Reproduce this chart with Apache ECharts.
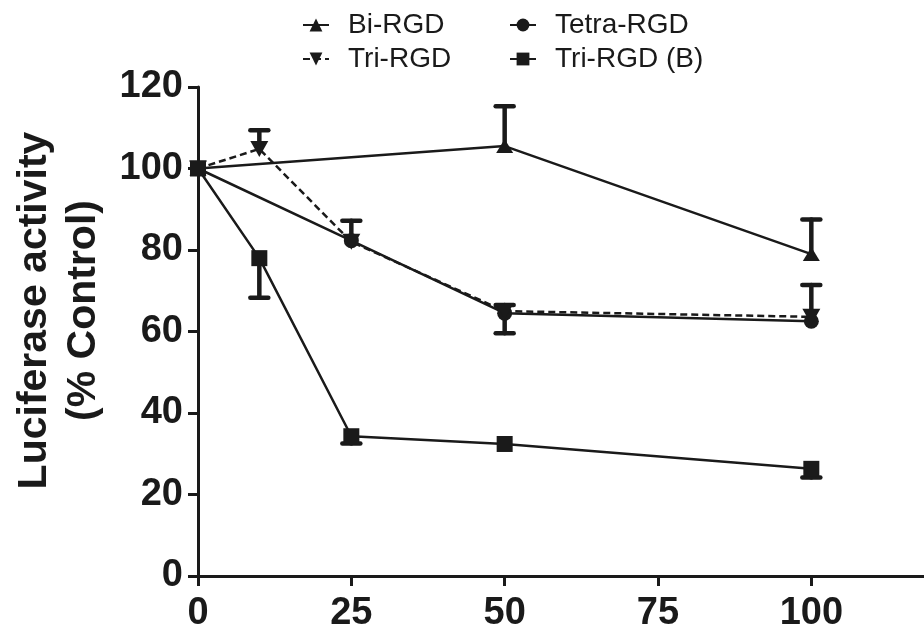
<!DOCTYPE html>
<html>
<head>
<meta charset="utf-8">
<script src="https://cdn.jsdelivr.net/npm/echarts@6/dist/echarts.min.js"></script>
<style>
  html, body { margin: 0; padding: 0; background: #fff; }
  #chart { width: 924px; height: 624px; }
</style>
</head>
<body>
<div id="chart"></div>
<script>
// concentrations (x) and mean luciferase activity (% control)
var biX = [0, 50, 100];
var biY = [100, 105.5, 79];
var biErr = [0, 9.8, 8.5];        // drawn upwards

var tetraX = [0, 25, 50, 100];
var tetraY = [100, 82.3, 64.5, 62.5];
var tetraErr = [0, 0, -4.9, 0];   // negative = drawn downwards

var triX = [0, 10, 25, 50, 100];
var triY = [100, 104.8, 82, 65, 63.6];
var triErr = [0, 4.6, 5.2, 1.5, 7.8];

var triBX = [0, 10, 25, 50, 100];
var triBY = [100, 78, 34.3, 32.4, 26.3];
var triBErr = [0, -9.7, -1.8, 0, -2.1];

var xTicks = [0, 25, 50, 75, 100];
var ink = '#1a1a1a';
var font = '"Liberation Sans", Arial, sans-serif';

function pairs(xs, ys) {
    var out = [];
    for (var i = 0; i < xs.length; i++) out.push([xs[i], ys[i]]);
    return out;
}
function errData(xs, ys, es) {
    var out = [];
    for (var i = 0; i < xs.length; i++) {
        if (es[i] !== 0) out.push([xs[i], ys[i], ys[i] + es[i]]);
    }
    return out;
}
function renderErr(params, api) {
    var p0 = api.coord([api.value(0), api.value(1)]);
    var p1 = api.coord([api.value(0), api.value(2)]);
    var st = { stroke: ink, lineWidth: 4.5, lineCap: 'round' };
    return {
        type: 'group',
        children: [
            { type: 'line', shape: { x1: p0[0], y1: p0[1], x2: p1[0], y2: p1[1] }, style: st },
            { type: 'line', shape: { x1: p1[0] - 9, y1: p1[1], x2: p1[0] + 9, y2: p1[1] }, style: st }
        ]
    };
}
function errSeries(data) {
    return {
        type: 'custom',
        renderItem: renderErr,
        encode: { x: 0, y: [1, 2] },
        data: data,
        silent: true,
        z: 1
    };
}
function legendAt(name, left, top) {
    return {
        data: [name],
        left: left,
        top: top,
        padding: 0,
        itemWidth: 26,
        itemHeight: 16,
        textStyle: { fontSize: 28, fontFamily: font, color: ink, padding: [0, 0, 0, 14] }
    };
}

var chart = echarts.init(document.getElementById('chart'));
var option = {
    backgroundColor: '#fff',
    animation: false,
    legend: [
        legendAt('Bi-RGD', 302, 11),
        legendAt('Tetra-RGD', 509, 11),
        legendAt('Tri-RGD', 302, 45),
        legendAt('Tri-RGD (B)', 509, 45)
    ],
    grid: {
        left: 198, right: -10, top: 87, bottom: 48,
        containLabel: false,
        outerBoundsMode: 'none'
    },
    xAxis: {
        type: 'value',
        min: 0, max: 120, interval: 25,
        axisLine: { lineStyle: { color: ink, width: 3 } },
        axisTick: { length: 10, lineStyle: { color: ink, width: 3 }, customValues: xTicks },
        axisLabel: { customValues: xTicks, color: ink, fontSize: 38, fontWeight: 'bold', fontFamily: font, margin: 19 },
        splitLine: { show: false }
    },
    yAxis: {
        type: 'value',
        min: 0, max: 120, interval: 20,
        name: 'Luciferase activity\n(% Control)',
        nameLocation: 'middle',
        nameGap: 90,
        nameTextStyle: { fontSize: 41, fontWeight: 'bold', fontFamily: font, color: ink, lineHeight: 49, padding: [0, 0, 0, 42] },
        axisLine: { lineStyle: { color: ink, width: 3 } },
        axisTick: { length: 10, lineStyle: { color: ink, width: 3 } },
        axisLabel: { color: ink, fontSize: 38, fontWeight: 'bold', fontFamily: font, margin: 15 },
        splitLine: { show: false }
    },
    series: [
        {
            name: 'Bi-RGD', type: 'line', data: pairs(biX, biY),
            symbol: 'triangle', symbolSize: [17, 14],
            lineStyle: { color: ink, width: 2.5 }, itemStyle: { color: ink }, z: 3
        },
        {
            name: 'Tetra-RGD', type: 'line', data: pairs(tetraX, tetraY),
            symbol: 'circle', symbolSize: 15,
            lineStyle: { color: ink, width: 2.5 }, itemStyle: { color: ink }, z: 3
        },
        {
            name: 'Tri-RGD', type: 'line', data: pairs(triX, triY),
            symbol: 'triangle', symbolRotate: 180, symbolSize: [18, 16],
            lineStyle: { color: ink, width: 2.5, type: [7, 4] }, itemStyle: { color: ink }, z: 4
        },
        {
            name: 'Tri-RGD (B)', type: 'line', data: pairs(triBX, triBY),
            symbol: 'rect', symbolSize: 16,
            lineStyle: { color: ink, width: 2.5 }, itemStyle: { color: ink }, z: 5
        },
        errSeries(errData(biX, biY, biErr)),
        errSeries(errData(tetraX, tetraY, tetraErr)),
        errSeries(errData(triX, triY, triErr)),
        errSeries(errData(triBX, triBY, triBErr))
    ]
};
chart.setOption(option);
</script>
</body>
</html>
